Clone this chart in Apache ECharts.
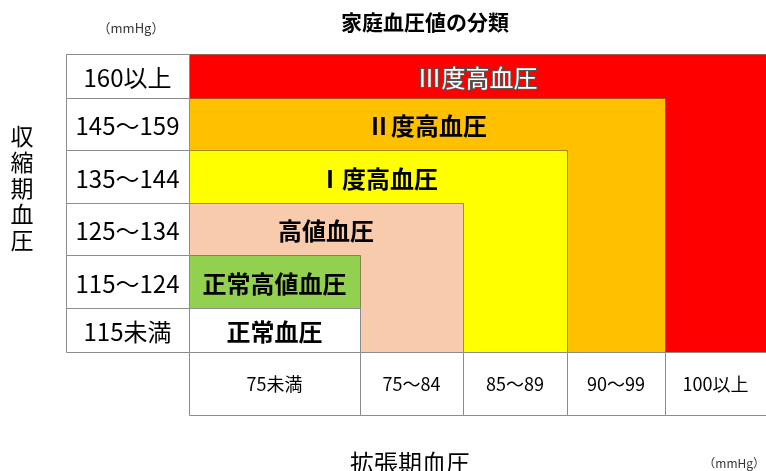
<!DOCTYPE html>
<html><head><meta charset="utf-8">
<script src="https://cdn.jsdelivr.net/npm/echarts@6/dist/echarts.min.js"></script>
<style>html,body{margin:0;padding:0;background:#fff}#c{width:766px;height:471px}</style>
</head><body><div id="c"></div>
<script>
// ---- data ----
const titleText = '家庭血圧値の分類';
const unitText = '（mmHg）';
const yTitle = '収縮期血圧';
const xTitle = '拡張期血圧';
const systolicCats = ['160以上', '145～159', '135～144', '125～134', '115～124', '115未満'];
const diastolicCats = ['75未満', '75～84', '85～89', '90～99', '100以上'];
const classNames = ['Ⅲ度高血圧', 'Ⅱ度高血圧', 'Ⅰ度高血圧', '高値血圧', '正常高値血圧', '正常血圧'];
const classTopRow = [0, 1, 2, 3, 4, 5];   // systolic category index where each class starts
const classLastCol = [4, 3, 2, 1, 0, 0];  // last diastolic category index included

// ---- layout / style ----
const COLW = [123, 171, 103, 104, 98, 101];      // label column + diastolic columns
const ROWH = [44, 52, 53, 52, 53, 44, 63];       // systolic rows + diastolic label row
const colEdge = [0]; COLW.forEach(w => colEdge.push(colEdge[colEdge.length - 1] + w));
const rowEdge = [0]; ROWH.forEach(h => rowEdge.push(rowEdge[rowEdge.length - 1] + h));
const classColors = ['#FF0000', '#FFC000', '#FFFF00', '#F8CBAD', '#92D050', '#FFFFFF'];
const FONT = '"Noto Sans CJK JP", "Noto Sans", sans-serif';
const LINE = '#8c8c8c';
const c = v => Math.round(v) + 0.5;

function cellRect(api, x0, y0, x1, y1, fill, stroke) {
  const p0 = api.coord([x0, y0]), p1 = api.coord([x1, y1]);
  return {
    type: 'rect',
    shape: { x: c(p0[0]), y: c(p0[1]), width: Math.round(p1[0]) - Math.round(p0[0]), height: Math.round(p1[1]) - Math.round(p0[1]) },
    style: { fill: fill, stroke: stroke, lineWidth: 1 }
  };
}
function cellText(api, x0, y0, x1, y1, text, st, dy) {
  const p0 = api.coord([x0, y0]), p1 = api.coord([x1, y1]);
  return {
    type: 'text', z2: 10,
    style: Object.assign({ text: text, x: (p0[0] + p1[0]) / 2, y: (p0[1] + p1[1]) / 2 + (dy || 0),
      align: 'center', verticalAlign: 'middle', fontFamily: FONT, fill: '#000' }, st)
  };
}

const nSys = systolicCats.length;
const chart = echarts.init(document.getElementById('c'), null, { renderer: 'canvas' });
chart.setOption({
  animation: false,
  backgroundColor: '#fff',
  grid: { left: 66, right: 0, top: 54, bottom: 56 },
  xAxis: { type: 'value', min: 0, max: colEdge[colEdge.length - 1], show: false },
  yAxis: { type: 'value', min: 0, max: rowEdge[rowEdge.length - 1], inverse: true, show: false },
  graphic: [
    { type: 'text', x: 425, y: 22, style: { text: titleText, align: 'center', verticalAlign: 'middle', fontFamily: FONT, fontSize: 21, fontWeight: 'bold', fill: '#000' } },
    { type: 'text', x: 131, y: 28, style: { text: unitText, align: 'center', verticalAlign: 'middle', fontFamily: FONT, fontSize: 13, fill: '#333' } },
    { type: 'text', x: 765, y: 463, style: { text: unitText, align: 'right', verticalAlign: 'middle', fontFamily: FONT, fontSize: 12, fill: '#333' } },
    { type: 'text', x: 22, y: 188, style: { text: yTitle.split('').join('\n'), align: 'center', verticalAlign: 'middle', fontFamily: FONT, fontSize: 23, lineHeight: 26, fill: '#000' } },
    { type: 'text', x: 410, y: 463, style: { text: xTitle, align: 'center', verticalAlign: 'middle', fontFamily: FONT, fontSize: 24, fill: '#000' } }
  ],
  series: [
    {
      type: 'custom', coordinateSystem: 'cartesian2d', clip: false,
      data: classNames.map((n, i) => ({ name: n, value: [classTopRow[i], classLastCol[i]] })),
      renderItem: function (params, api) {
        const i = params.dataIndex;
        const top = api.value(0), last = api.value(1);
        const x0 = colEdge[1], x1 = colEdge[last + 2];
        const y0 = rowEdge[top], y1 = rowEdge[nSys];
        const ty1 = rowEdge[top + 1];
        const textStyle = i === 0
          ? { fontSize: 24, fill: '#fff', stroke: '#555', lineWidth: 2 }
          : { fontSize: 24, fontWeight: 'bold' };
        return {
          type: 'group',
          children: [
            cellRect(api, x0, y0, x1, y1, classColors[i], i === classNames.length - 1 ? LINE : 'rgba(90,70,40,0.55)'),
            cellText(api, x0, y0, x1, ty1, classNames[i], textStyle, 2)
          ]
        };
      }
    },
    {
      type: 'custom', coordinateSystem: 'cartesian2d', clip: false,
      data: systolicCats.map((s, i) => ({ name: s, value: [i] })),
      renderItem: function (params, api) {
        const r = api.value(0);
        const x0 = colEdge[0], x1 = colEdge[1], y0 = rowEdge[r], y1 = rowEdge[r + 1];
        return { type: 'group', children: [
          cellRect(api, x0, y0, x1, y1, '#fff', LINE),
          cellText(api, x0, y0, x1, y1, systolicCats[r], { fontSize: 24 }, 2)
        ] };
      }
    },
    {
      type: 'custom', coordinateSystem: 'cartesian2d', clip: false,
      data: diastolicCats.map((s, j) => ({ name: s, value: [j] })),
      renderItem: function (params, api) {
        const j = api.value(0);
        const x0 = colEdge[j + 1], x1 = colEdge[j + 2], y0 = rowEdge[nSys], y1 = rowEdge[nSys + 1];
        return { type: 'group', children: [
          cellRect(api, x0, y0, x1, y1, '#fff', LINE),
          cellText(api, x0, y0, x1, y1, diastolicCats[j], { fontSize: 18 }, 1)
        ] };
      }
    }
  ]
});
</script></body></html>
